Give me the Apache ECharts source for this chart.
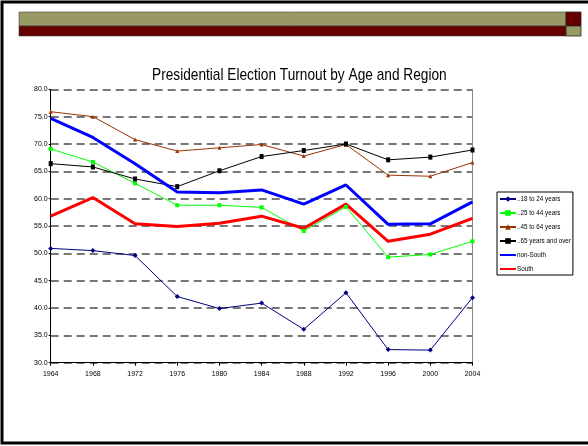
<!DOCTYPE html>
<html>
<head>
<meta charset="utf-8">
<script src="https://cdn.jsdelivr.net/npm/echarts@6/dist/echarts.min.js"></script>
<style>
  html,body{margin:0;padding:0;background:#fff;}
  #main{width:588px;height:446px;}
</style>
</head>
<body>
<div id="main"></div>
<script>
  // election years on the x axis
  var years = ['1964','1968','1972','1976','1980','1984','1988','1992','1996','2000','2004'];
  // turnout (%) by age group
  var age18to24 = [50.9,50.5,49.6,42.1,39.9,40.9,36.1,42.8,32.4,32.3,41.9];
  var age25to44 = [69.1,66.7,62.8,58.8,58.8,58.4,54.1,58.5,49.3,49.8,52.2];
  var age45to64 = [75.9,75.0,70.8,68.7,69.3,69.9,67.8,69.9,64.3,64.1,66.6];
  var age65over = [66.4,65.8,63.6,62.2,65.1,67.7,68.8,70.0,67.1,67.6,68.9];
  // turnout (%) by region
  var nonSouth = [74.7,71.2,66.4,61.2,61.1,61.6,59.0,62.5,55.3,55.4,59.4];
  var south = [56.8,60.2,55.4,54.9,55.5,56.8,54.6,59.0,52.2,53.5,56.4];
  // y axis range
  var yMin = 30, yMax = 80, yStep = 5;

  var font = "'Liberation Sans',Arial,sans-serif";

  var myChart = echarts.init(document.getElementById('main'));
  myChart.setOption({
    animation:false,
    backgroundColor:'#fff',
    graphic:[
      //slide frame
      {type:'rect',shape:{x:2,y:2,width:600,height:441},style:{fill:'none',stroke:'#000',lineWidth:3},z:100},
      //banner bars
      {type:'rect',shape:{x:19,y:12,width:547,height:14},style:{fill:'#999966',stroke:'#444',lineWidth:0.6}},
      {type:'rect',shape:{x:19,y:26,width:547,height:10},style:{fill:'#660000',stroke:'#444',lineWidth:0.6}},
      {type:'rect',shape:{x:566,y:12,width:15,height:14},style:{fill:'#660000',stroke:'#222',lineWidth:0.8}},
      {type:'rect',shape:{x:566,y:26,width:15,height:10},style:{fill:'#999966',stroke:'#222',lineWidth:0.8}},
      //title, squeezed to the narrow look of the original
      {type:'text',x:152,y:67,scaleX:0.805,
        style:{text:'Presidential Election Turnout by Age and Region',font:'17px '+font,fill:'#000'}}
    ],
    legend:{
      orient:'vertical',
      left:497,
      top:192,
      padding:[4,2,3,2],
      itemGap:8,
      itemWidth:16,
      itemHeight:7,
      borderColor:'#000',
      borderWidth:1,
      textStyle:{fontFamily:font,fontSize:6.3,color:'#000',padding:[0,0,0,-4]},
      data:['..18 to 24 years','..25 to 44 years','..45 to 64 years','..65 years and over',
        {name:'non-South',itemStyle:{opacity:0}},{name:'South',itemStyle:{opacity:0}}]
    },
    grid:{left:50.7,right:115.5,top:89.3,bottom:83.3,containLabel:false},
    xAxis:{
      type:'category',
      data:years,
      boundaryGap:false,
      axisLine:{lineStyle:{color:'#000',width:1}},
      axisTick:{show:true,length:3,lineStyle:{color:'#000'}},
      axisLabel:{fontFamily:font,fontSize:7,color:'#000',margin:8}
    },
    yAxis:[{
      type:'value',
      min:yMin,max:yMax,interval:yStep,
      axisLine:{show:true,lineStyle:{color:'#000',width:1}},
      axisTick:{show:true,length:2,lineStyle:{color:'#000'}},
      axisLabel:{fontFamily:font,fontSize:7,color:'#000',margin:3,formatter:function(v){return v.toFixed(1);}},
      splitLine:{show:true,lineStyle:{color:'#777',width:2,type:[8,5]}}
    },{
      type:'value',
      position:'right',
      min:yMin,max:yMax,interval:yStep,
      axisLine:{show:true,lineStyle:{color:'#888',width:1}},
      axisTick:{show:false},axisLabel:{show:false},splitLine:{show:false}
    }],
    series:[
      {name:'..18 to 24 years',type:'line',data:age18to24,color:'#000080',symbol:'diamond',symbolSize:5,showAllSymbol:true,lineStyle:{width:1}},
      {name:'..25 to 44 years',type:'line',data:age25to44,color:'#00ff00',symbol:'rect',symbolSize:4,showAllSymbol:true,lineStyle:{width:1}},
      {name:'..45 to 64 years',type:'line',data:age45to64,color:'#993300',symbol:'triangle',symbolSize:4,showAllSymbol:true,lineStyle:{width:1}},
      {name:'..65 years and over',type:'line',data:age65over,color:'#000000',symbol:'rect',symbolSize:[4,5],showAllSymbol:true,lineStyle:{width:1}},
      {name:'non-South',type:'line',data:nonSouth,color:'#0000ff',symbol:'none',lineStyle:{width:3}},
      {name:'South',type:'line',data:south,color:'#ff0000',symbol:'none',lineStyle:{width:3}}
    ]
  });
</script>
</body>
</html>
